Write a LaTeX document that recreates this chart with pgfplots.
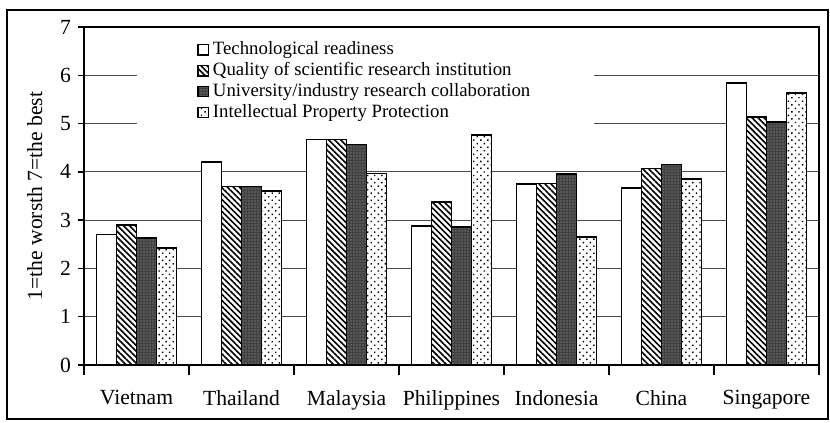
\documentclass[border=0pt]{standalone}
\usepackage{pgfplots}
\pgfplotsset{compat=1.18}
\usepackage{fontspec}
\setmainfont{Liberation Serif}
\usetikzlibrary{patterns,patterns.meta}

\begin{document}
\begin{tikzpicture}
\begin{axis}[
    width=367.5pt, height=169pt, scale only axis,
    ybar=0pt, bar width=10pt,
    every axis plot post/.append style={
        legend image code/.code={\draw[##1,line width=0.6pt] (0pt,-2.6pt) rectangle (5.2pt,2.6pt);}},
    xmin=-0.5, xmax=6.5, ymin=0, ymax=7,
    xtick={0,...,6},
    xticklabels={Vietnam,Thailand,Malaysia,Philippines,Indonesia,China,Singapore},
    major x tick style={draw=none},
    minor xtick={-0.5,0.5,...,6.5},
    minor tick length=5pt, major tick length=3pt,
    ytick={0,...,7},
    tick align=outside, tick pos=left,
    tick style={black, line width=0.7pt},
    ymajorgrids, grid style={black!70, line width=0.6pt},
    axis line style={line width=0.8pt},
    /pgf/number format/assume math mode=true,
    ticklabel style={font=\fontsize{10.8}{12}\selectfont},
    xticklabel style={yshift=-6pt},
    ylabel={1=the worsth 7=the best},
    every axis y label/.style={at={(rel axis cs:-0.067,0.5)}, rotate=90, anchor=center,
        font=\fontsize{10.8}{12}\selectfont},
    clip=false,
    legend style={at={(rel axis cs:0.072,0.976)}, anchor=north west, draw=none, fill=white,
        inner xsep=30pt, inner ysep=2pt, row sep=0pt,
        nodes={inner ysep=1.18pt, inner xsep=2pt},
        font=\fontsize{9.4}{11}\selectfont},
    legend cell align=left,
]
\addplot[draw=black, line width=0.8pt, fill=white]
    coordinates {(0,2.70) (1,4.20) (2,4.67) (3,2.88) (4,3.75) (5,3.66) (6,5.84)};
\addplot[draw=black, line width=0.8pt, fill=white,
    postaction={pattern={Lines[angle=-45, distance=2.1pt, line width=0.8pt]}}]
    coordinates {(0,2.90) (1,3.70) (2,4.67) (3,3.37) (4,3.76) (5,4.07) (6,5.13)};
\addplot[draw=black, line width=0.8pt, fill=black!75,
    postaction={pattern={Dots[radius=0.3pt, distance=1.5pt]}, pattern color=black!35}]
    coordinates {(0,2.63) (1,3.70) (2,4.57) (3,2.86) (4,3.95) (5,4.15) (6,5.03)};
\addplot[draw=black, line width=0.8pt, fill=white,
    postaction={pattern={Dots[radius=0.5pt, distance=2.5pt, angle=45]}}]
    coordinates {(0,2.42) (1,3.60) (2,3.97) (3,4.76) (4,2.65) (5,3.85) (6,5.63)};
\legend{Technological readiness,
    Quality of scientific research institution,
    University/industry research collaboration,
    Intellectual Property Protection}
% outer frame and page size
\draw[line width=0.8pt] (rel axis cs:-0.1048,-0.1598) rectangle (rel axis cs:1.0122,1.0503);
\path (rel axis cs:-0.1143,-0.1716) rectangle (rel axis cs:1.0150,1.0799);
\end{axis}
\end{tikzpicture}
\end{document}
